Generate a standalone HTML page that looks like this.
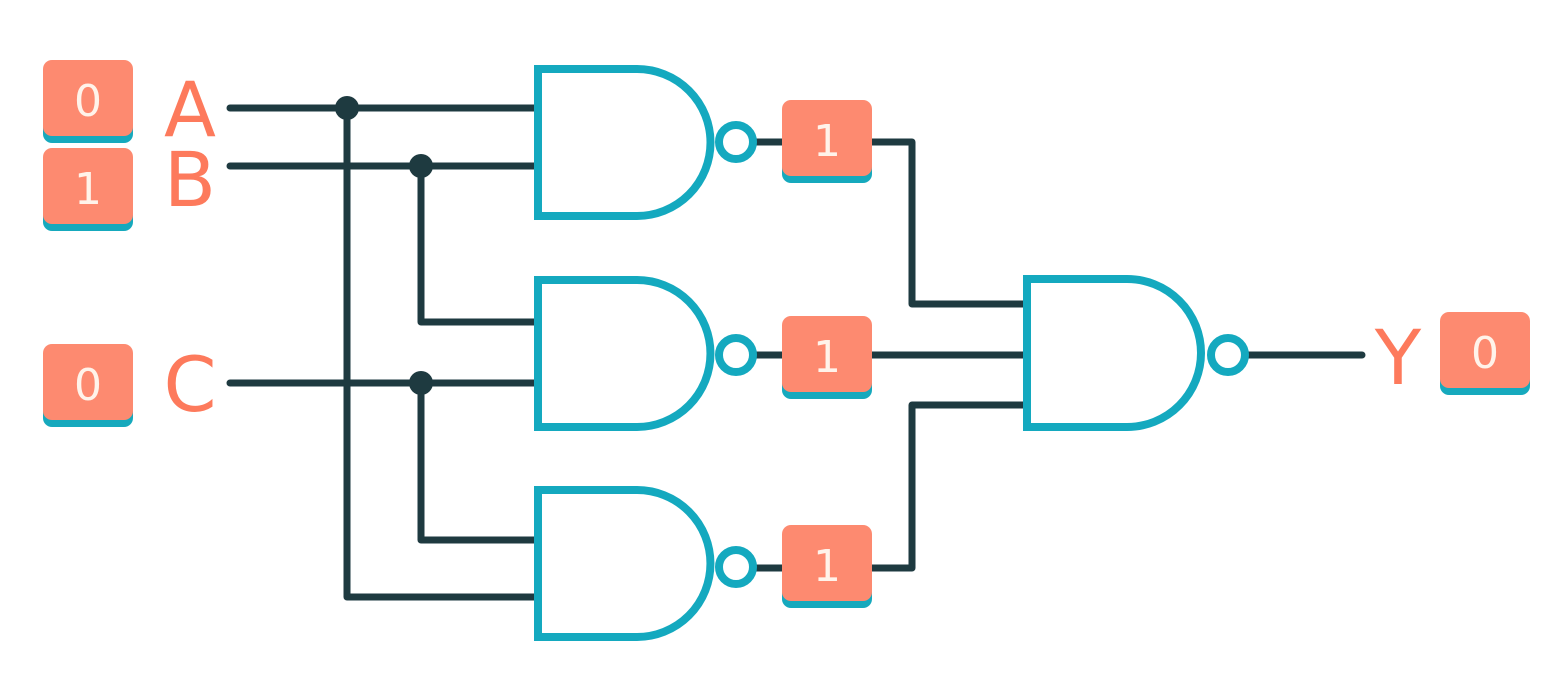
<!DOCTYPE html>
<html><head><style>body{margin:0;background:#fff}svg{display:block}</style></head><body>
<svg width="1566" height="676" viewBox="0 0 1566 676" xmlns="http://www.w3.org/2000/svg">
<defs>
<g id="box"><rect x="0" y="7" width="90" height="76" rx="9" fill="#16a9bd"/><rect x="0" y="0" width="90" height="76" rx="9" fill="#fd8a70"/></g>
</defs>
<g stroke="#1e3a40" stroke-width="7" fill="none" stroke-linecap="round" stroke-linejoin="round">
<path d="M230 108H535M230 166H535M230 383H535"/>
<path d="M347 108V597H535M421 166V322H535M421 383V540H535"/>
<path d="M754 142H912V304H1025M754 355H1025M754 568H912V405H1025M1246 355H1362"/>
</g>
<g fill="#1e3a40"><circle cx="347" cy="108" r="12"/><circle cx="421" cy="166" r="12"/><circle cx="421" cy="383" r="12"/></g>
<g stroke="#14a9bf" stroke-width="8" fill="#fff">
<path d="M538 69H637A73.5 73.5 0 0 1 637 216H538Z"/>
<path d="M538 280H637A73.5 73.5 0 0 1 637 427H538Z"/>
<path d="M538 490H637A73.5 73.5 0 0 1 637 637H538Z"/>
<path d="M1027 279H1127A74 74 0 0 1 1127 427H1027Z"/>
<circle cx="736" cy="142" r="17"/><circle cx="736" cy="355" r="17"/><circle cx="736" cy="567" r="17"/><circle cx="1228" cy="355" r="17"/>
</g>
<use href="#box" x="43" y="60"/><use href="#box" x="43" y="148"/><use href="#box" x="43" y="344"/>
<use href="#box" x="782" y="100"/><use href="#box" x="782" y="316"/><use href="#box" x="782" y="525"/>
<use href="#box" x="1440" y="312"/>
<g font-family="DejaVu Sans, Liberation Sans, sans-serif" font-size="44" fill="#fff3ea" text-anchor="middle">
<text x="88" y="116">0</text><text x="88" y="204">1</text><text x="88" y="400">0</text>
<text x="827" y="156">1</text><text x="827" y="372">1</text><text x="827" y="581">1</text>
<text x="1485" y="368">0</text>
</g>
<g font-family="DejaVu Sans, Liberation Sans, sans-serif" font-size="76" fill="#fd7a5c" text-anchor="middle">
<text x="190" y="136">A</text><text x="190" y="206">B</text><text x="190" y="411">C</text><text x="1398" y="384">Y</text>
</g>
</svg>
</body></html>
